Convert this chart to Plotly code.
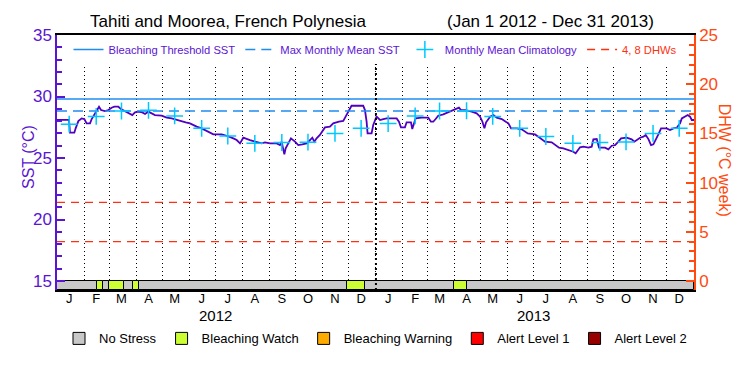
import pandas as pd
import plotly.graph_objects as go

# ---------------- data ----------------
title_place = "Tahiti and Moorea, French Polynesia"
title_period = "(Jan 1 2012 - Dec 31 2013)"
period_start = "2012-01-01"
period_end = "2014-01-01"

# daily SST: days since Jan 1 2012, value in deg C
sst_day = [0, 13.8, 14.9, 19.9, 21.4, 24.5, 28.3, 31.4, 34, 37.9, 39.8, 42.8, 45.5, 48.2, 50.5, 55,
           58.9, 62.7, 65.8, 70.4, 73.4, 78, 82.6, 86.4, 89.5, 93.3, 97.9, 101, 104.8, 108.6, 112.4,
           120.1, 125.9, 131.6, 137.3, 143.1, 147.7, 152.6, 156.5, 160.3, 166, 171.8, 175.6, 179.4,
           185.1, 189, 194.7, 198.5, 202.4, 206.2, 210, 213.8, 217.7, 221.5, 227.3, 234.9, 238.7,
           244.5, 252.1, 255.9, 257.8, 259.7, 260.9, 262.4, 265.5, 268.5, 273.1, 276.9, 281.5, 286.5,
           290.3, 293, 295.3, 297.9, 301.7, 304.4, 307.5, 313.2, 317, 323.5, 328.5, 331.2, 334.2, 338,
           351.4, 353.4, 355.3, 356.4, 361, 362.9, 366.7, 368, 370.7, 374.5, 378.3, 389.8, 392.4,
           394.7, 399.3, 401.2, 406.2, 407.7, 408.9, 411.5, 418.4, 426.1, 429.1, 431.8, 434.5, 437.5,
           443.3, 449, 456.7, 461.3, 463.6, 469, 475.9, 481.6, 485.5, 488.2, 490.5, 492.4, 497, 500.8,
           504.6, 510.4, 515, 518, 521.1, 527.6, 533.3, 537.2, 540.2, 546.7, 548.5, 552.4, 556.2, 560,
           567.7, 571.5, 576.1, 581.1, 586.8, 592.5, 595.2, 597.5, 600.2, 604, 609.8, 613.6, 615.5,
           619.4, 622, 628.9, 632.7, 636.6, 640.4, 644.2, 647.3, 653.8, 659.5, 662.6, 665.3, 669.1,
           672.9, 675.6, 678.7, 681.7, 684.4, 687.1, 690.1, 693.2, 699.7, 703.5, 707.4, 711.2, 715,
           717, 720.8, 723.8, 726.5, 728.4, 731]
sst_value = [28.1, 28.1, 27.06, 27.06, 27.41, 28.0, 28.22, 28.17, 27.82, 27.82, 28.17, 28.55, 28.9,
             29.17, 28.9, 28.82, 28.9, 29.09, 29.17, 29.17, 28.98, 28.82, 28.63, 28.49, 28.71, 28.77,
             28.71, 28.58, 28.77, 28.63, 28.49, 28.44, 28.28, 28.22, 28.09, 28.01, 27.9, 27.82, 27.68,
             27.55, 27.41, 27.19, 27.06, 26.92, 26.92, 26.92, 26.81, 26.73, 26.6, 26.46, 26.19, 26.65,
             26.52, 26.46, 26.33, 26.19, 26.27, 26.19, 26.19, 26.05, 26.33, 25.65, 25.3, 25.78, 26.19,
             26.6, 26.33, 26.05, 26.11, 26.19, 26.46, 26.65, 26.33, 26.6, 26.87, 27.14, 27.49, 27.55,
             27.82, 27.95, 28.01, 28.36, 28.77, 29.25, 29.25, 28.9, 27.95, 27.0, 27.0, 27.68, 28.36,
             28.28, 28.09, 28.17, 28.22, 28.22, 27.95, 27.49, 27.49, 27.9, 27.9, 27.36, 27.63, 28.22,
             28.28, 28.28, 27.95, 27.95, 28.17, 28.44, 28.55, 28.71, 28.9, 29.09, 28.9, 28.9, 28.77,
             28.63, 28.36, 27.95, 27.41, 27.9, 28.36, 28.49, 28.28, 28.17, 27.95, 27.82, 27.41, 27.41,
             27.33, 27.14, 27.0, 26.95, 26.92, 26.73, 26.54, 26.33, 26.27, 26.05, 25.84, 25.78, 25.65,
             25.51, 25.38, 25.57, 25.87, 25.92, 25.84, 25.92, 26.52, 26.54, 25.84, 25.84, 25.7, 26.0,
             26.05, 26.33, 26.6, 26.65, 26.52, 26.33, 26.46, 26.65, 26.73, 26.87, 26.54, 26.05, 26.11,
             26.46, 26.92, 27.41, 27.41, 27.27, 27.41, 27.46, 27.82, 28.22, 28.36, 28.49, 28.36, 28.09,
             28.09]

clim_date = ["2012-01-15", "2012-02-15", "2012-03-15", "2012-04-15", "2012-05-15", "2012-06-15",
             "2012-07-15", "2012-08-15", "2012-09-15", "2012-10-15", "2012-11-15", "2012-12-15",
             "2013-01-15", "2013-02-15", "2013-03-15", "2013-04-15", "2013-05-15", "2013-06-15",
             "2013-07-15", "2013-08-15", "2013-09-15", "2013-10-15", "2013-11-15", "2013-12-15"]
clim_value = [27.75, 28.38, 28.82, 28.88, 28.42, 27.41, 26.79, 26.19, 26.26, 26.29, 27.0, 27.41,
              27.8, 28.42, 28.82, 28.84, 28.38, 27.41, 26.75, 26.19, 26.27, 26.31, 27.0, 27.41]

bleaching_threshold = 29.8
max_monthly_mean = 28.82
dhw_levels = [4, 8]

month_letters = ["J", "F", "M", "A", "M", "J", "J", "A", "S", "O", "N", "D"]
years = ["2012", "2013"]

stress_start = ["2012-01-01", "2012-02-16", "2012-02-23", "2012-03-01", "2012-03-18", "2012-03-28",
                "2012-04-04", "2012-11-29", "2012-12-20", "2013-04-01", "2013-04-15"]
stress_end = ["2012-02-16", "2012-02-23", "2012-03-01", "2012-03-18", "2012-03-28", "2012-04-04",
              "2012-11-29", "2012-12-20", "2013-04-01", "2013-04-15", "2014-01-01"]
stress_level = [0, 1, 0, 1, 0, 1, 0, 1, 0, 1, 0]
stress_names = ["No Stress", "Bleaching Watch", "Bleaching Warning", "Alert Level 1", "Alert Level 2"]
stress_colors = ["#c8c8c8", "#ccff33", "#ffaa00", "#ff0000", "#990000"]

# ---------------- styling ----------------
FONT = "Liberation Sans"
PURPLE = "#5a14d2"
LINE_PURPLE = "#5000c0"
BLUE = "#1e8cf0"
CYAN = "#00c8ff"
ORANGE = "#ff4a10"
RED = "#ff3010"

SST_MIN, SST_MAX = 14.27, 35.0
DHW_MIN, DHW_MAX = -0.915, 25.0
STRESS_TOP = 15.0

fig = go.Figure()

# SST line
sst_dates = pd.Timestamp(period_start) + pd.to_timedelta(sst_day, unit="D")
fig.add_trace(go.Scatter(x=sst_dates, y=sst_value, mode="lines",
                         line=dict(color=LINE_PURPLE, width=1.8), showlegend=False,
                         hoverinfo="skip"))

# legend traces (top)
fig.add_trace(go.Scatter(x=[period_start, period_end], y=[bleaching_threshold] * 2, mode="lines",
                         line=dict(color=BLUE, width=1.5), name="Bleaching Threshold SST",
                         legend="legend"))
fig.add_trace(go.Scatter(x=[period_start, period_end], y=[max_monthly_mean] * 2, mode="lines",
                         line=dict(color=BLUE, width=1.5, dash="10px,6px"),
                         name="Max Monthly Mean SST", legend="legend"))
fig.add_trace(go.Scatter(x=clim_date, y=clim_value, mode="markers",
                         marker=dict(symbol="cross-thin", size=12, line=dict(color=CYAN, width=1.5)),
                         name="Monthly Mean Climatology", legend="legend"))
for i, lv in enumerate(dhw_levels):
    fig.add_trace(go.Scatter(x=[period_start, period_end], y=[lv, lv], mode="lines", yaxis="y2",
                             line=dict(color=RED, width=1.3, dash="8px,6px"),
                             name='<span style="color:%s">4, 8 DHWs</span>' % RED,
                             legendgroup="dhw", showlegend=(i == 0), legend="legend"))

# stress bar
for lvl, (nm, col) in enumerate(zip(stress_names, stress_colors)):
    xs, ws = [], []
    for s, e, l in zip(stress_start, stress_end, stress_level):
        if l == lvl:
            st, en = pd.Timestamp(s), pd.Timestamp(e)
            xs.append(st + (en - st) / 2)
            ws.append((en - st).total_seconds() * 1000)
    if not xs:
        xs, ys, ws_arg = [None], [None], None
    else:
        ys, ws_arg = [STRESS_TOP - SST_MIN] * len(xs), ws
    fig.add_trace(go.Bar(x=xs, y=ys, base=SST_MIN, width=ws_arg, name=nm, legend="legend2",
                         marker=dict(color=col, line=dict(color="black", width=1))))

# bold dotted year boundary
fig.add_vline(x=f"{years[1]}-01-01", line=dict(color="black", width=2, dash="2px,3px"))

month_ticks = [f"{y}-{m:02d}-15" for y in years for m in range(1, 13)]
month_text = month_letters * len(years)

fig.update_layout(
    width=750, height=375,
    margin=dict(l=57, r=56, t=35, b=85, autoexpand=False),
    paper_bgcolor="white", plot_bgcolor="white",
    font=dict(family=FONT, size=13, color="black"),
    barmode="overlay", bargap=0,
    showlegend=True,
    legend=dict(orientation="h", x=0.5, xanchor="center", y=1.0, yanchor="top",
                bgcolor="white", font=dict(family=FONT, size=11.2, color=PURPLE),
                itemwidth=30, tracegroupgap=0, borderwidth=0),
    legend2=dict(orientation="h", x=0.5, xanchor="center", y=-0.19, yanchor="middle",
                 bgcolor="rgba(0,0,0,0)", font=dict(family=FONT, size=13, color="black"),
                 itemwidth=30, traceorder="normal"),
    xaxis=dict(type="date", range=[period_start, period_end], showgrid=False, zeroline=False,
               automargin=False,
               showline=True, linecolor="black", linewidth=1.5, mirror=True,
               tickmode="array", tickvals=month_ticks, ticktext=month_text, ticks="",
               ticklabelstandoff=-4,
               tickfont=dict(family=FONT, size=13, color="black"),
               minor=dict(dtick="M1", tick0=period_start, showgrid=True, gridcolor="black",
                          griddash="1px,3px", gridwidth=1, ticks="")),
    yaxis=dict(range=[SST_MIN, SST_MAX], showgrid=False, zeroline=False, automargin=False,
               showline=True, linecolor=PURPLE, linewidth=1.5,
               tickmode="array", tickvals=[15, 20, 25, 30, 35], ticks="inside", ticklen=8,
               tickcolor=PURPLE, tickwidth=1.5,
               tickfont=dict(family=FONT, size=17, color=PURPLE),
               minor=dict(dtick=1, tick0=0, ticks="inside", ticklen=5, tickcolor=PURPLE)),
    yaxis2=dict(range=[DHW_MIN, DHW_MAX], overlaying="y", side="right", showgrid=False,
                zeroline=False, automargin=False, showline=True, linecolor=ORANGE, linewidth=1.5,
                tickmode="array", tickvals=[0, 5, 10, 15, 20, 25], ticks="inside", ticklen=8,
                tickcolor=ORANGE, tickwidth=1.5,
                tickfont=dict(family=FONT, size=17, color=ORANGE),
                minor=dict(dtick=1, tick0=0, ticks="inside", ticklen=5, tickcolor=ORANGE)),
)

annotations = [
    dict(text=title_place, x=0.268, y=1.051, xref="paper", yref="paper", showarrow=False,
         font=dict(family=FONT, size=17, color="black"), xanchor="center", yanchor="middle"),
    dict(text=title_period, x=0.774, y=1.051, xref="paper", yref="paper", showarrow=False,
         font=dict(family=FONT, size=17, color="black"), xanchor="center", yanchor="middle"),
    dict(text="SST (°C)", x=-0.061, y=0.52, xref="paper", yref="paper", showarrow=False,
         textangle=-90, font=dict(family=FONT, size=16, color=PURPLE)),
    dict(text="DHW (°C week)", x=1.064, y=0.51, xref="paper", yref="paper", showarrow=False,
         textangle=90, font=dict(family=FONT, size=16, color=ORANGE)),
]
for y in years:
    annotations.append(dict(text=y, x=f"{y}-07-01", y=-0.1, xref="x", yref="paper",
                            showarrow=False, font=dict(family=FONT, size=15, color="black"),
                            xanchor="center", yanchor="middle"))
fig.update_layout(annotations=annotations)

fig.write_html("out.html", config={"displayModeBar": False},
               post_script="document.body.style.margin='0';")
